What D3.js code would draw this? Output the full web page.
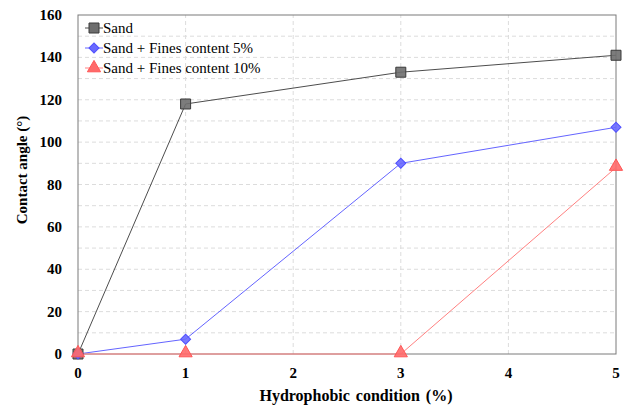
<!DOCTYPE html>
<html>
<head>
<meta charset="utf-8">
<script src="https://cdn.jsdelivr.net/npm/d3@7"></script>
</head>
<body style="margin:0">
<script>
var xValues = [0, 1, 3, 5];
var sand = [0, 118, 133, 141];
var fines5 = [0, 7, 90, 107];
var fines10 = [0, 0, 0, 88];
var seriesNames = ["Sand", "Sand + Fines content 5%", "Sand + Fines content 10%"];
var xTicks = [0, 1, 2, 3, 4, 5];
var yTicks = [0, 20, 40, 60, 80, 100, 120, 140, 160];

var FONT = "'Liberation Serif'";
var _width = 630, _height = 407;
var _margins = { top: 15, right: 14, bottom: 53, left: 78 };

var svg = d3.select("body").append("svg")
  .attr("width", _width)
  .attr("height", _height);

var x = d3.scaleLinear().domain([0, 5]).range([_margins.left, _width - _margins.right]);
var y = d3.scaleLinear().domain([0, 160]).range([_height - _margins.bottom, _margins.top]);

// grid
var grid = svg.append("g");
grid.selectAll(".hg").data(d3.range(10, 160, 10)).enter().append("line")
  .attr("x1", x(0)).attr("x2", x(5))
  .attr("y1", function(d) { return y(d); }).attr("y2", function(d) { return y(d); })
  .attr("stroke", "#dcdcdc").attr("stroke-dasharray", "4,3").attr("stroke-width", 1);
grid.selectAll(".vg").data([1, 2, 3, 4]).enter().append("line")
  .attr("y1", y(0)).attr("y2", y(160))
  .attr("x1", function(d) { return x(d); }).attr("x2", function(d) { return x(d); })
  .attr("stroke", "#dcdcdc").attr("stroke-dasharray", "4,3").attr("stroke-width", 1);

// frame
svg.append("rect")
  .attr("x", x(0)).attr("y", y(160))
  .attr("width", x(5) - x(0)).attr("height", y(0) - y(160))
  .attr("fill", "none").attr("stroke", "#7a7a7a").attr("stroke-width", 1);

// tick labels drawn from the scales
svg.append("g").selectAll("text").data(xTicks).enter().append("text")
  .attr("x", function(d) { return x(d); })
  .attr("y", y(0) + 24)
  .attr("text-anchor", "middle")
  .attr("font-size", 15).attr("font-weight", "bold").attr("fill", "#000")
  .style("font-family", FONT)
  .text(function(d) { return d; });

svg.append("g").selectAll("text").data(yTicks).enter().append("text")
  .attr("x", x(0) - 16)
  .attr("y", function(d) { return y(d) + 5; })
  .attr("text-anchor", "end")
  .attr("font-size", 15).attr("font-weight", "bold").attr("fill", "#000")
  .style("font-family", FONT)
  .text(function(d) { return d; });

svg.append("text")
  .attr("x", 356).attr("y", 401)
  .attr("text-anchor", "middle").attr("font-size", 16).attr("font-weight", "bold")
  .attr("word-spacing", 2)
  .style("font-family", FONT)
  .text("Hydrophobic condition (%)");

svg.append("text")
  .attr("transform", "translate(27,170) rotate(-90)")
  .attr("text-anchor", "middle").attr("font-size", 15).attr("font-weight", "bold")
  .style("font-family", FONT)
  .text("Contact angle (°)");

var series = [
  { name: seriesNames[0], values: sand, line: "#4d4d4d", fill: "#6e6e6e", stroke: "#3a3a3a", shape: d3.symbolSquare, size: 100, rot: 0 },
  { name: seriesNames[1], values: fines5, line: "#6464ff", fill: "#6a6aff", stroke: "#5050ff", shape: d3.symbolSquare, size: 50, rot: 45 },
  { name: seriesNames[2], values: fines10, line: "#ff8080", fill: "#ff6a6a", stroke: "#ff5555", shape: d3.symbolTriangle, size: 75, rot: 0 }
];

var line = d3.line()
  .x(function(d) { return x(d[0]); })
  .y(function(d) { return y(d[1]); });

series.forEach(function(s) {
  var pts = xValues.map(function(v, i) { return [v, s.values[i]]; });
  svg.append("path")
    .attr("d", line(pts))
    .attr("fill", "none").attr("stroke", s.line).attr("stroke-width", 1);
});

series.forEach(function(s) {
  var pts = xValues.map(function(v, i) { return [v, s.values[i]]; });
  svg.append("g").selectAll("path").data(pts).enter().append("path")
    .attr("d", d3.symbol().type(s.shape).size(s.size))
    .attr("transform", function(d) {
      return "translate(" + x(d[0]) + "," + (y(d[1]) + (s.shape === d3.symbolTriangle ? -1 : 0)) + ") rotate(" + s.rot + ")";
    })
    .attr("fill", s.fill).attr("fill-opacity", 0.9)
    .attr("stroke", s.stroke).attr("stroke-width", 1);
});

// legend
var legend = svg.append("g").attr("transform", "translate(94,28)");
series.forEach(function(s, i) {
  var g = legend.append("g").attr("transform", "translate(0," + (i * 20) + ")");
  g.append("line").attr("x1", -9).attr("x2", 9).attr("y1", 0).attr("y2", 0)
    .attr("stroke", s.line).attr("stroke-width", 1);
  g.append("path").attr("d", d3.symbol().type(s.shape).size(s.size))
    .attr("transform", "rotate(" + s.rot + ")")
    .attr("fill", s.fill).attr("stroke", s.stroke).attr("stroke-width", 1);
  g.append("text").attr("x", 9).attr("y", 5)
    .style("font-family", FONT)
    .attr("font-size", 15).attr("fill", "#000").text(s.name);
});
</script>
</body>
</html>
